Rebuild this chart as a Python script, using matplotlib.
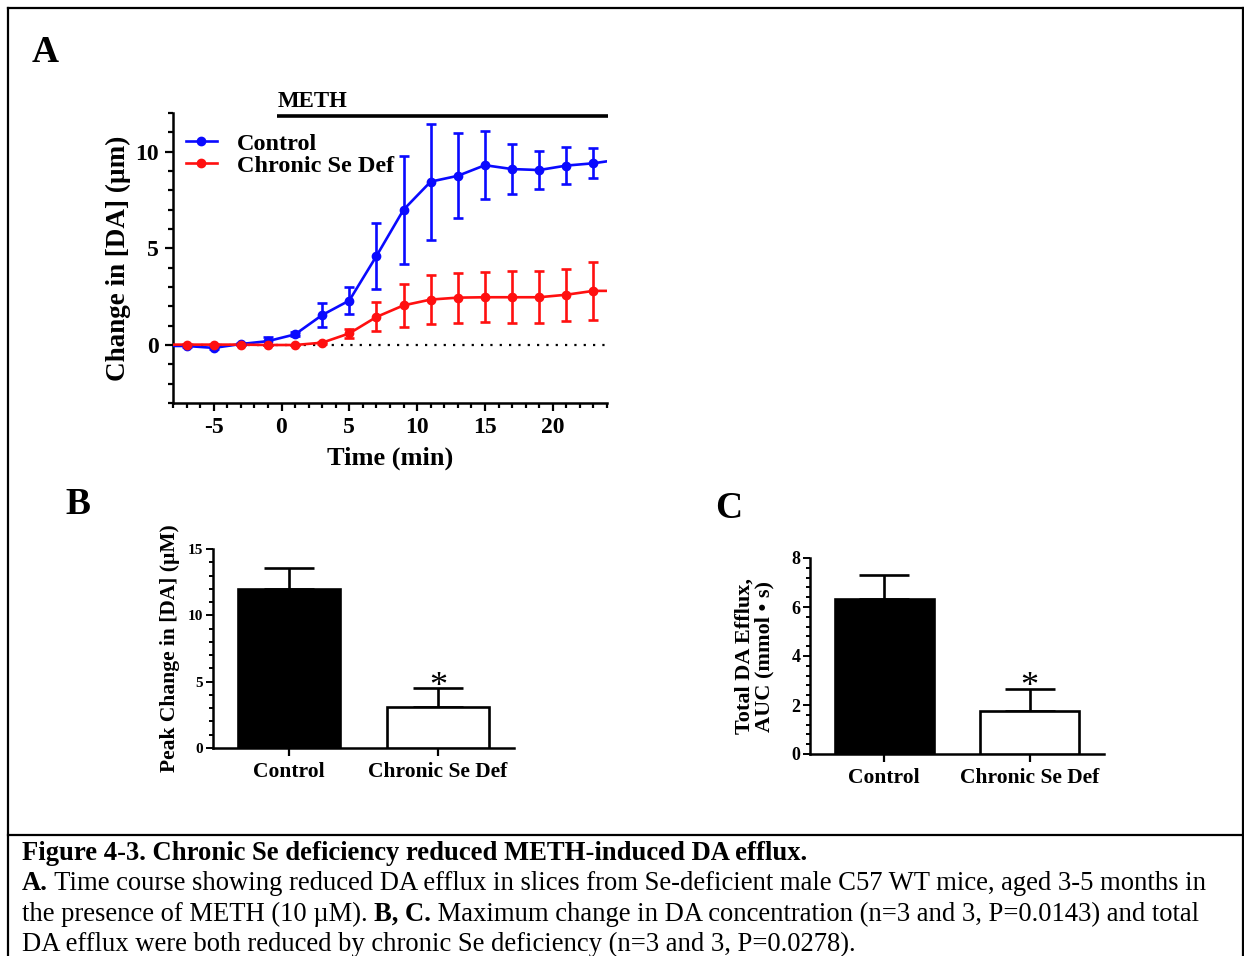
import matplotlib

matplotlib.use("Agg")
import matplotlib.pyplot as plt
from matplotlib.lines import Line2D
from matplotlib.ticker import MultipleLocator

plt.rcParams["font.family"] = ["Liberation Serif", "DejaVu Serif"]
plt.rcParams["font.weight"] = "bold"
plt.rcParams["axes.labelweight"] = "bold"
plt.rcParams["axes.unicode_minus"] = False

# Panel A: time course (min) of change in [DA]
time_min = [-7, -5, -3, -1, 1, 3, 5, 7, 9, 11, 13, 15, 17, 19, 21, 23]
control_mean = [-0.05, -0.15, 0.05, 0.2, 0.55, 1.55, 2.3, 4.6, 7.0, 8.45, 8.75, 9.3, 9.1, 9.05, 9.28, 9.4]
control_sem = [0.05, 0.05, 0.05, 0.2, 0.1, 0.6, 0.72, 1.7, 2.8, 3.0, 2.2, 1.75, 1.3, 1.0, 0.95, 0.78]
sedef_mean = [0.02, 0.02, 0.02, 0.0, 0.0, 0.12, 0.6, 1.45, 2.05, 2.35, 2.45, 2.47, 2.47, 2.47, 2.6, 2.8]
sedef_sem = [0.02, 0.02, 0.02, 0.02, 0.02, 0.05, 0.25, 0.75, 1.1, 1.25, 1.3, 1.3, 1.35, 1.35, 1.35, 1.5]
# where the connecting lines meet the axes borders
edge_time = [-8, 24]
control_edge = [-0.05, 9.5]
sedef_edge = [0.02, 2.8]
meth_span = [-0.3, 24.1]

# Panels B and C
groups = ["Control", "Chronic Se Def"]
peak_mean = [11.95, 3.1]
peak_sem = [1.65, 1.4]
auc_mean = [6.33, 1.75]
auc_sem = [0.98, 0.92]

caption_title = "Figure 4-3. Chronic Se deficiency reduced METH-induced DA efflux."
caption_lines = [
    [("A.", True), (" Time course showing reduced DA efflux in slices from Se-deficient male C57 WT mice, aged 3-5 months in", False)],
    [("the presence of METH (10 \u00b5M). ", False), ("B, C.", True), (" Maximum change in DA concentration (n=3 and 3, P=0.0143) and total", False)],
    [("DA efflux were both reduced by chronic Se deficiency (n=3 and 3, P=0.0278).", False)],
]

W, H = 1244, 956
fig = plt.figure(figsize=(W / 100, H / 100), dpi=100)


def px_axes(left, top, right, bottom):
    return fig.add_axes([left / W, 1 - bottom / H, (right - left) / W, (bottom - top) / H])


def style_axes(axis, lw=1.8):
    for side in ("top", "right"):
        axis.spines[side].set_visible(False)
    for side in ("left", "bottom"):
        axis.spines[side].set_linewidth(lw)


# ---- Panel A
ax_a = px_axes(173, 113, 607, 403)
style_axes(ax_a)
ax_a.plot([-8, 24], [0, 0], color="black", lw=1.6, linestyle=(0, (1, 3.2)), zorder=1)
series = [
    ("Control", control_mean, control_sem, control_edge, "#0a0aff"),
    ("Chronic Se Def", sedef_mean, sedef_sem, sedef_edge, "#ff1010"),
]
for label, mean, sem, edge, color in series:
    ax_a.plot([edge_time[0]] + time_min + [edge_time[1]], [edge[0]] + mean + [edge[1]], color=color, lw=1.9, zorder=3)
    ax_a.errorbar(time_min, mean, yerr=sem, fmt="o", color=color, ms=6, elinewidth=1.9,
                  capsize=3.8, capthick=1.9, zorder=4, label=label)
ax_a.set_xlim(-8, 24)
ax_a.set_ylim(-3, 12)
ax_a.xaxis.set_major_locator(MultipleLocator(5))
ax_a.xaxis.set_minor_locator(MultipleLocator(1))
ax_a.yaxis.set_major_locator(MultipleLocator(5))
ax_a.yaxis.set_minor_locator(MultipleLocator(1))
ax_a.set_xticks([-5, 0, 5, 10, 15, 20])
ax_a.tick_params(which="major", length=6, width=1.6, labelsize=17, pad=4)
ax_a.tick_params(which="minor", length=3.5, width=1.6)
ax_a.set_xlabel("Time (min)", fontsize=19, labelpad=6)
ax_a.set_ylabel("Change in [DA] (\u00b5m)", fontsize=19.5, labelpad=3)
handles = [Line2D([], [], color=c, lw=1.9, marker="o", ms=6) for _, _, _, _, c in series]
ax_a.legend(handles, [s[0] for s in series], loc="upper left", bbox_to_anchor=(-0.01, 0.99),
            frameon=False, fontsize=17.5, handlelength=1.3, handletextpad=0.8, labelspacing=0.0,
            borderaxespad=0.3)
ax_a.plot(meth_span, [11.85, 11.85], color="black", lw=2.6, clip_on=False, solid_capstyle="butt")
ax_a.text(meth_span[0], 12.05, "METH", fontsize=16.5, ha="left", va="bottom")


def bar_panel(axis, means, sems, ylim, major, minor, ylabel, label_size, label_pad):
    style_axes(axis, lw=1.8)
    x = range(len(groups))
    axis.errorbar(x, means, yerr=[[0] * len(means), sems], fmt="none", ecolor="black",
                  elinewidth=1.9, capsize=18, capthick=1.9, zorder=2)
    axis.bar(x, means, width=0.68, color=["black", "white"], edgecolor="black", linewidth=1.9, zorder=3)
    axis.annotate("*", (1, means[1] + sems[1]), xytext=(0, -11), textcoords="offset points",
                  ha="center", va="bottom", fontsize=26, fontweight="normal")
    axis.set_xlim(-0.51, 1.51)
    axis.set_ylim(*ylim)
    axis.yaxis.set_major_locator(MultipleLocator(major))
    axis.yaxis.set_minor_locator(MultipleLocator(minor))
    axis.set_xticks(list(x))
    axis.set_xticklabels(groups, fontsize=15.5)
    axis.tick_params(axis="x", length=6, width=1.6, pad=4)
    axis.tick_params(axis="y", which="major", length=5, width=1.4, labelsize=11, pad=2)
    axis.tick_params(axis="y", which="minor", length=3, width=1.4)
    axis.set_ylabel(ylabel, fontsize=label_size, labelpad=label_pad)


ax_b = px_axes(213, 549, 514, 748)
bar_panel(ax_b, peak_mean, peak_sem, (0, 15), 5, 1, "Peak Change in [DA] (\u00b5M)", 15.5, 6)

ax_c = px_axes(810, 558, 1104, 754)
bar_panel(ax_c, auc_mean, auc_sem, (0, 8), 2, 0.4, "Total DA Efflux,\nAUC (mmol \u2022 s)", 16, 12)
ax_c.yaxis.label.set_linespacing(1.0)
ax_c.tick_params(axis="y", which="major", labelsize=13)

# panel letters
for letter, x, y in [("A", 45, 52), ("B", 78, 505), ("C", 729, 509)]:
    fig.text(x / W, 1 - y / H, letter, fontsize=27, ha="center", va="center")

# frame and caption
frame = dict(color="black", lw=1.6, transform=fig.transFigure)
fig.add_artist(Line2D([8 / W, 8 / W], [-0.01, 1 - 8 / H], **frame))
fig.add_artist(Line2D([8 / W, 1243 / W], [1 - 8 / H, 1 - 8 / H], **frame))
fig.add_artist(Line2D([1243 / W, 1243 / W], [-0.01, 1 - 8 / H], **frame))
fig.add_artist(Line2D([8 / W, 1243 / W], [1 - 835 / H, 1 - 835 / H], **frame))

cap_size = 19.2
fig.text(22 / W, 1 - 854 / H, caption_title, fontsize=cap_size, fontweight="bold", va="center")
renderer = fig.canvas.get_renderer()
for row, parts in enumerate(caption_lines):
    x_px = 22
    y_px = 884 + row * 30
    for text, bold in parts:
        t = fig.text(x_px / W, 1 - y_px / H, text, fontsize=cap_size,
                     fontweight="bold" if bold else "normal", va="center")
        x_px += t.get_window_extent(renderer).width

fig.savefig("out.png", dpi=100)
